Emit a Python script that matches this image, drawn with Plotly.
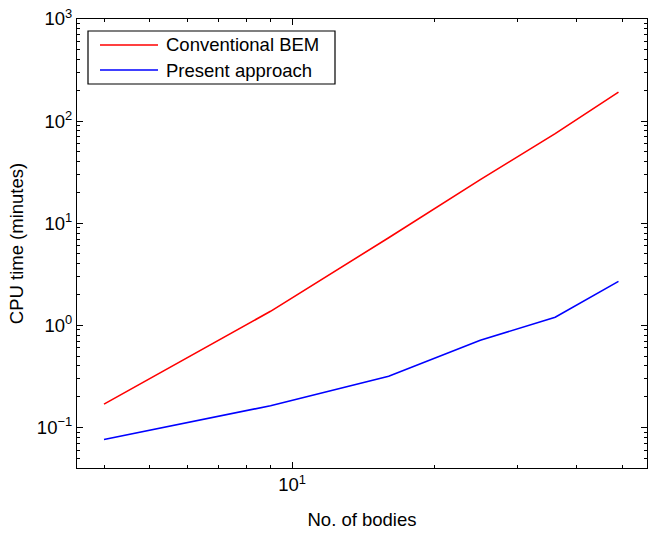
import numpy as np
import plotly.graph_objects as go

# Number of bodies in each run
bodies = [4, 9, 16, 25, 36, 49]
# CPU time in minutes
conventional_bem = [0.169, 1.37, 7.2, 26.7, 75.4, 192]
present_approach = [0.076, 0.163, 0.317, 0.713, 1.20, 2.69]

series_names = ["Conventional BEM", "Present approach"]
series_colors = ["#ff0000", "#0000ff"]

y_major = [0.1, 1, 10, 100, 1000]
y_major_text = ["10<sup>\u22121</sup>", "10<sup>0</sup>", "10<sup>1</sup>",
                "10<sup>2</sup>", "10<sup>3</sup>"]
x_major = [10]
x_major_text = ["10<sup>1</sup>"]

x_minor = [4, 5, 6, 7, 8, 9, 20, 30, 40, 50]
y_minor = [k * 10.0 ** d for d in range(-2, 3) for k in range(2, 10)
           if 0.04 <= k * 10.0 ** d <= 1000]

FONT = "Liberation Sans, Arial, Helvetica, sans-serif"
FS = 18.5

W, H = 650, 535
ML, MR, MT, MB = 77, 3, 19, 67
PW, PH = W - ML - MR, H - MT - MB


def px_x(p):
    return (p - ML) / PW


def px_y(p):
    return (H - MB - p) / PH


fig = go.Figure()
for name, ys, col in zip(series_names, [conventional_bem, present_approach], series_colors):
    fig.add_trace(go.Scatter(x=bodies, y=ys, mode="lines", name=name,
                             line=dict(color=col, width=1.6), showlegend=False))

axis_common = dict(
    showline=True, linecolor="black", linewidth=1.2,
    mirror="allticks", ticks="inside", ticklen=6, tickwidth=1,
    tickcolor="black", showgrid=False, zeroline=False,
    tickfont=dict(family=FONT, size=FS, color="black"),
)

fig.update_xaxes(
    type="log", range=[np.log10(3.507), np.log10(56.3)],
    tickmode="array", tickvals=x_major, ticktext=x_major_text,
    minor=dict(tickmode="array", tickvals=x_minor, ticks="inside",
               ticklen=3, tickcolor="black", showgrid=False),
    title=dict(text="No. of bodies", font=dict(family=FONT, size=FS, color="black"),
               standoff=18),
    **axis_common,
)
fig.update_yaxes(
    type="log", range=[np.log10(0.04), 3],
    tickmode="array", tickvals=y_major, ticktext=y_major_text,
    minor=dict(tickmode="array", tickvals=y_minor, ticks="inside",
               ticklen=3, tickcolor="black", showgrid=False),
    title=dict(text="CPU time (minutes)", font=dict(family=FONT, size=FS, color="black"),
               standoff=8),
    **axis_common,
)

# Legend box with long line samples
shapes = [dict(type="rect", xref="paper", yref="paper",
               x0=px_x(88), x1=px_x(335), y0=px_y(84), y1=px_y(31),
               line=dict(color="black", width=1.2), fillcolor="white", layer="above")]
annotations = []
for i, (name, col) in enumerate(zip(series_names, series_colors)):
    yy = px_y(45 + 25 * i)
    shapes.append(dict(type="line", xref="paper", yref="paper",
                       x0=px_x(100), x1=px_x(158), y0=yy, y1=yy,
                       line=dict(color=col, width=1.6), layer="above"))
    annotations.append(dict(text=name, xref="paper", yref="paper",
                            x=px_x(164), y=yy, xanchor="left", yanchor="middle",
                            showarrow=False,
                            font=dict(family=FONT, size=FS, color="black")))

fig.update_layout(
    width=W, height=H,
    margin=dict(l=ML, r=MR, t=MT, b=MB),
    paper_bgcolor="white", plot_bgcolor="white",
    font=dict(family=FONT, size=FS, color="black"),
    showlegend=False,
    shapes=shapes, annotations=annotations,
)

fig.write_html("out.html")
